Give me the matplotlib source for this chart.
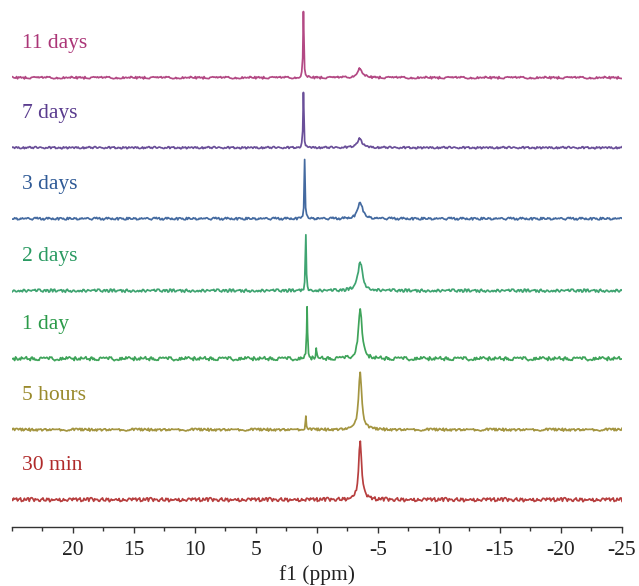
import numpy as np
import matplotlib
matplotlib.use("Agg")
import matplotlib.pyplot as plt
from matplotlib.ticker import MultipleLocator
import matplotlib.transforms as mtransforms

# ---- data (heights in pixel-like units) ----
labels = ["30 min", "5 hours", "1 day", "2 days", "3 days", "7 days", "11 days"]
colors = ["#b02a2a", "#9a8a2c", "#2a9a48", "#2a9a62", "#2f5a96", "#5a3c8e", "#ab3577"]
offsets = [27, 97, 168, 236, 308, 379, 449]

sharp_pos = [0.9, 0.9, 0.8, 0.9, 1.0, 1.1, 1.1]       # ppm
sharp_height = [0, 14, 50, 56, 58, 55, 66]
sharp_fwhm = [0.08, 0.08, 0.08, 0.08, 0.08, 0.08, 0.08]

broad_pos = [-3.55, -3.55, -3.55, -3.55, -3.55, -3.5, -3.5]
broad_height = [59, 58, 50, 29, 17, 9, 9]
broad_fwhm = [0.30, 0.32, 0.35, 0.45, 0.45, 0.50, 0.50]

small_pos = [0.0, 0.0, 0.05, 0.0, 0.0, 0.0, 0.0]
small_height = [0, 0, 10, 0, 0, 0, 0]

noise_amp = [2.0, 1.4, 2.0, 1.6, 1.3, 1.1, 1.2]
noise_values = [0.3, -0.6, 0.9, -0.2, -0.8, 0.5, 0.1, -0.4, 0.7, -0.9,
                0.2, 0.6, -0.3, -0.7, 0.8, 0.0, -0.5, 0.4, 1.0, -0.1,
                -0.8, 0.3, 0.6, -0.6, -0.2, 0.9, -0.4, 0.1, 0.5, -1.0,
                0.7, -0.3, 0.2, -0.7, 0.4, 0.8, -0.5, -0.1, 0.6, -0.8,
                0.1, 0.9, -0.6, 0.3, -0.2, -0.9, 0.5, 0.7, -0.4, 0.2,
                -0.3, 0.8, -0.7, 0.0, 0.6, -0.5, 0.4, -0.1, 0.9, -0.6, 0.2]
noise_stride = [7, 11, 13, 17, 19, 23, 29]

xticks = [20, 15, 10, 5, 0, -5, -10, -15, -20, -25]

# ---- figure ----
W, H = 639, 586
fig = plt.figure(figsize=(W / 100, H / 100), dpi=100)
ax_left, ax_right = 11.7, 622.0
ax_bottom, ax_top = 526.7, 5.0
ax = fig.add_axes([ax_left / W, (H - ax_bottom) / H,
                   (ax_right - ax_left) / W, (ax_bottom - ax_top) / H])
ax.set_xlim(25, -25)
ax.set_ylim(0, ax_bottom - ax_top)

grid = np.arange(25, -25.001, -0.08)


def lor(x, x0, h, w):
    return h / (1 + ((x - x0) / (w / 2)) ** 2)


nv = np.array(noise_values)
trans = mtransforms.blended_transform_factory(ax.transAxes, ax.transData)
for i in range(len(labels)):
    x = np.sort(np.concatenate([grid, [sharp_pos[i], broad_pos[i], small_pos[i]]]))[::-1]
    idx = (np.arange(len(x)) * noise_stride[i] + 3 * i) % len(nv)
    y = offsets[i] + nv[idx] * noise_amp[i]
    y = y + lor(x, sharp_pos[i], sharp_height[i], sharp_fwhm[i])
    y = y + lor(x, broad_pos[i], broad_height[i], broad_fwhm[i])
    y = y + lor(x, small_pos[i], small_height[i], 0.08)
    ax.plot(x, y, color=colors[i], lw=1.25, alpha=0.9)
    ax.text((21.7 - ax_left) / (ax_right - ax_left), offsets[i] + 30, labels[i],
            transform=trans, color=colors[i], fontsize=15.5,
            family="Liberation Serif", va="baseline", ha="left")

for s in ["left", "right", "top"]:
    ax.spines[s].set_visible(False)
ax.spines["bottom"].set_color("#333333")
ax.spines["bottom"].set_linewidth(1.0)
ax.set_yticks([])
ax.set_xticks(xticks)
ax.set_xticklabels([str(t) for t in xticks], family="Liberation Serif", fontsize=15.5)
ax.xaxis.set_minor_locator(MultipleLocator(2.5))
ax.tick_params(axis="x", which="major", length=4, width=1, color="#333333",
               pad=6, labelcolor="#222222")
ax.tick_params(axis="x", which="minor", length=3, width=1, color="#333333")
ax.set_xlabel("f1 (ppm)", family="Liberation Serif", fontsize=15.5,
              color="#222222", labelpad=4)

fig.savefig("out.png", dpi=100)
